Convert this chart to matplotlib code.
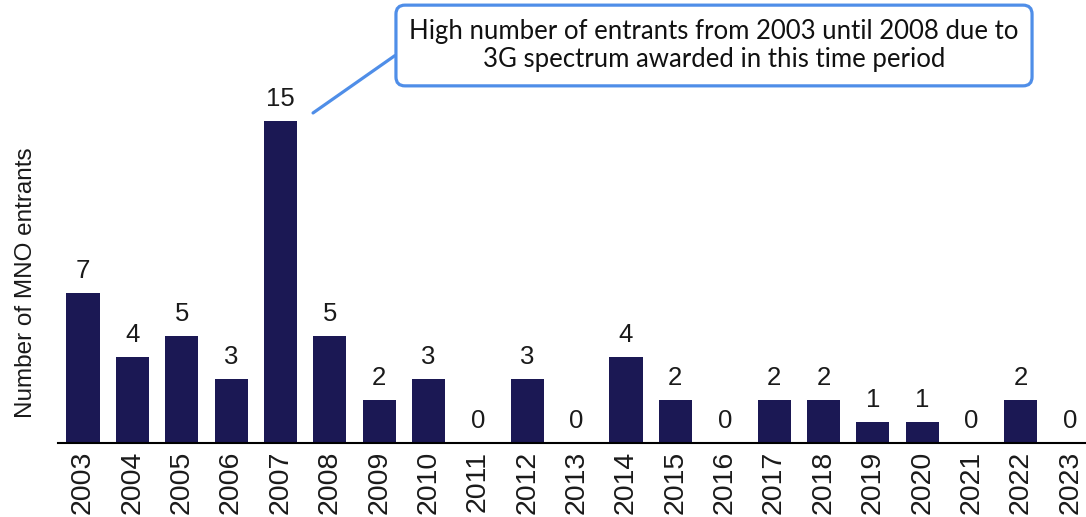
import numpy as np
from matplotlib import pyplot as plt

years = ['2003', '2004', '2005', '2006', '2007', '2008', '2009', '2010', '2011', '2012', '2013',
         '2014', '2015', '2016', '2017', '2018', '2019', '2020', '2021', '2022', '2023']
entrants = [7, 4, 5, 3, 15, 5, 2, 3, 0, 3, 0, 4, 2, 0, 2, 2, 1, 1, 0, 2, 0]
note = 'High number of entrants from 2003 until 2008 due to\n3G spectrum awarded in this time period'

plt.rcParams['font.family'] = ['Liberation Sans', 'DejaVu Sans']
W, H = 1086, 517
fig = plt.figure(figsize=(W/100, H/100), dpi=100)
ax = fig.add_axes([58/W, (H-443)/H, (W-58)/W, 443/H])

x = np.arange(len(years))
ax.bar(x, entrants, width=0.67, color='#1b1854')
for xi, v in zip(x, entrants):
    ax.annotate(str(v), (xi, v), xytext=(0, 7), textcoords='offset points',
                ha='center', va='bottom', fontsize=18.5, color='#1a1a1a')

ax.set_xlim(-0.507, 20.32)
ax.set_ylim(0, 20.63)
ax.set_xticks(x)
ax.set_xticklabels(years, rotation=90, fontsize=20.5, color='#1a1a1a')
ax.tick_params(axis='x', length=0, pad=5.5)
ax.set_yticks([])
for s in ['top', 'right', 'left']:
    ax.spines[s].set_visible(False)
ax.spines['bottom'].set_linewidth(1.5)
ax.set_ylabel('Number of MNO entrants', fontsize=17.5, color='#1a1a1a')
ax.yaxis.set_label_coords(-0.02, 0.363)

# callout
ax.annotate(note, xy=(4.66, 15.37), xycoords='data',
            xytext=(714, H-45.5), textcoords='figure pixels',
            ha='center', va='center', multialignment='center',
            fontsize=18.5, family=['Lato', 'DejaVu Sans'], color='#111111',
            bbox=dict(boxstyle='round,pad=0.52,rounding_size=0.35', fc='white', ec='#4f8ee8', lw=2.3),
            arrowprops=dict(arrowstyle='-', color='#4f8ee8', lw=2.3, relpos=(0, 0.5),
                            shrinkA=0, shrinkB=0))

fig.savefig('out.png', dpi=100)
